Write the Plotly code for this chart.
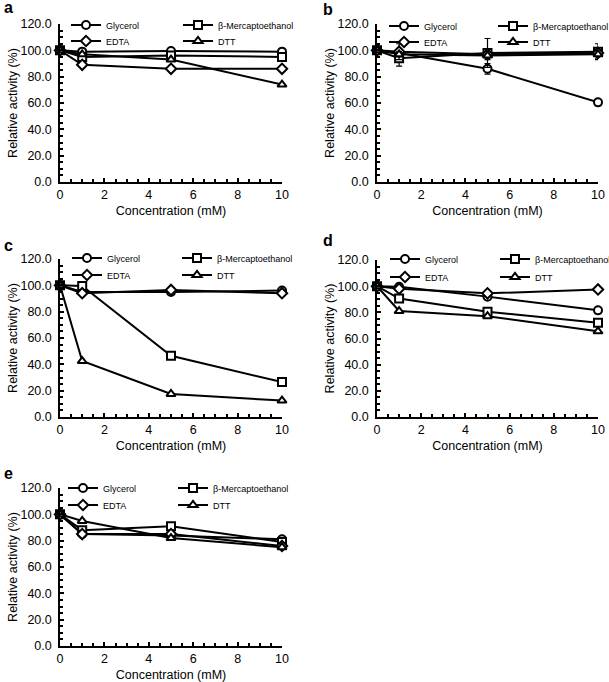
import plotly.graph_objects as go

conc = [0, 1, 5, 10]
series_names = ["Glycerol", "β-Mercaptoethanol", "EDTA", "DTT"]
symbols = ["circle", "square", "diamond", "triangle-up"]

# panel a
a_glycerol = [100, 99, 99.5, 99]
a_bme = [100, 95, 96, 95]
a_edta = [100, 89, 86, 86]
a_dtt = [100, 97, 93, 74]
# panel b
b_glycerol = [100, 98, 86, 60.5]
b_bme = [100, 94, 98, 99]
b_edta = [100, 99, 97, 98]
b_dtt = [100, 97, 96, 97]
b_glycerol_err = [0, 2, 4, 1]
b_bme_err = [0, 6, 11, 6]
b_edta_err = [0, 6, 2, 2]
b_dtt_err = [0, 2, 3, 3]
# panel c
c_glycerol = [100, 95, 95, 96]
c_bme = [100, 99.5, 46.5, 26.5]
c_edta = [100, 94, 96.5, 94]
c_dtt = [100, 42.5, 17.5, 12.5]
# panel d
d_glycerol = [100, 99.5, 92, 81.5]
d_bme = [100, 90.5, 80.5, 72]
d_edta = [100, 98, 94.5, 97.5]
d_dtt = [100, 81, 77, 65.5]
# panel e
e_glycerol = [100, 85, 84, 81]
e_bme = [100, 88, 91, 79]
e_edta = [100, 85, 85, 76]
e_dtt = [100, 95, 82, 75]

x_ticks = [0, 2, 4, 6, 8, 10]
y_ticks = [0, 20, 40, 60, 80, 100, 120]
y_ticklabels = ["0.0", "20.0", "40.0", "60.0", "80.0", "100.0", "120.0"]

W, H = 609, 682

panels = [
    dict(label="a", data=[a_glycerol, a_bme, a_edta, a_dtt], err=None,
         x=(60, 282), y=(24, 182), lab=(2, 8),
         leg=[(66, 25), (178, 25), (66, 41), (178, 41)]),
    dict(label="b", data=[b_glycerol, b_bme, b_edta, b_dtt],
         err=[b_glycerol_err, b_bme_err, b_edta_err, b_dtt_err],
         x=(377, 598), y=(24, 182), lab=(321, 10),
         leg=[(384, 26), (493, 26), (384, 42), (493, 42)]),
    dict(label="c", data=[c_glycerol, c_bme, c_edta, c_dtt], err=None,
         x=(60, 282), y=(259, 417), lab=(2, 245),
         leg=[(67, 258), (177, 258), (67, 275), (177, 275)]),
    dict(label="d", data=[d_glycerol, d_bme, d_edta, d_dtt], err=None,
         x=(377, 598), y=(260, 417), lab=(321, 240),
         leg=[(385, 259), (495, 259), (385, 277), (495, 277)]),
    dict(label="e", data=[e_glycerol, e_bme, e_edta, e_dtt], err=None,
         x=(60, 282), y=(488, 646), lab=(2, 473),
         leg=[(63, 488), (173, 488), (63, 505), (173, 505)]),
]

fig = go.Figure()
layout = dict(width=W, height=H, margin=dict(l=0, r=0, t=0, b=0, autoexpand=False),
              showlegend=True,
              paper_bgcolor="white", plot_bgcolor="white",
              font=dict(family="Liberation Sans, Arial", color="black", size=12))
annotations = []
legend_idx = 0
for pi, p in enumerate(panels):
    ax = "" if pi == 0 else str(pi + 1)
    xa = "x" + ax
    ya = "y" + ax
    for si, name in enumerate(series_names):
        legend_idx += 1
        lname = "legend" if legend_idx == 1 else "legend%d" % legend_idx
        err = None
        if p["err"] is not None:
            err = dict(type="data", array=p["err"][si], visible=True,
                       color="black", thickness=1.2, width=3)
        fig.add_trace(go.Scatter(
            x=conc, y=p["data"][si], name=name, mode="lines+markers",
            xaxis=xa, yaxis=ya, legend=lname, cliponaxis=False, showlegend=True,
            line=dict(color="black", width=2),
            marker=dict(symbol=symbols[si], size=8, color="white",
                        line=dict(color="black", width=2)),
            error_y=err,
        ))
        lx, ly = p["leg"][si]
        layout[lname] = dict(x=(lx) / W, y=1 - ly / H, xanchor="left", yanchor="middle",
                             bgcolor="rgba(0,0,0,0)", borderwidth=0,
                             font=dict(size=9, family="Liberation Sans, Arial"),
                             itemsizing="trace", tracegroupgap=0)
    xd = [p["x"][0] / W, p["x"][1] / W]
    yd = [1 - p["y"][1] / H, 1 - p["y"][0] / H]
    layout["xaxis" + ax] = dict(
        domain=xd, anchor=ya, range=[0, 10], tickvals=x_ticks,
        ticks="inside", ticklen=4, tickwidth=1.5, tickcolor="black",
        minor=dict(dtick=0.5, ticks="inside", ticklen=3, tickwidth=1.5, tickcolor="black"),
        showline=True, linecolor="black", linewidth=1.5, showgrid=False, zeroline=False,
        tickfont=dict(size=12.5),
        title=dict(text="Concentration (mM)", font=dict(size=12.5), standoff=5),
    )
    layout["yaxis" + ax] = dict(
        domain=yd, anchor=xa, range=[0, 120], tickvals=y_ticks, ticktext=y_ticklabels,
        ticks="inside", ticklen=4, tickwidth=1.5, tickcolor="black",
        minor=dict(dtick=5, ticks="inside", ticklen=3, tickwidth=1.5, tickcolor="black"),
        showline=True, linecolor="black", linewidth=1.5, showgrid=False, zeroline=False,
        tickfont=dict(size=12.5), ticklabelstandoff=4,
        title=dict(text="Relative activity (%)", font=dict(size=12.5), standoff=0),
    )
    annotations.append(dict(text="<b>%s</b>" % p["label"], x=p["lab"][0] / W,
                            y=1 - p["lab"][1] / H, xref="paper", yref="paper",
                            xanchor="left", yanchor="middle", showarrow=False,
                            font=dict(size=16, family="Liberation Sans, Arial")))

layout["annotations"] = annotations
fig.update_layout(**layout)
fig.write_html("out.html", config={"displayModeBar": False},
               post_script="document.body.style.margin='0px';document.body.style.padding='0px';")
